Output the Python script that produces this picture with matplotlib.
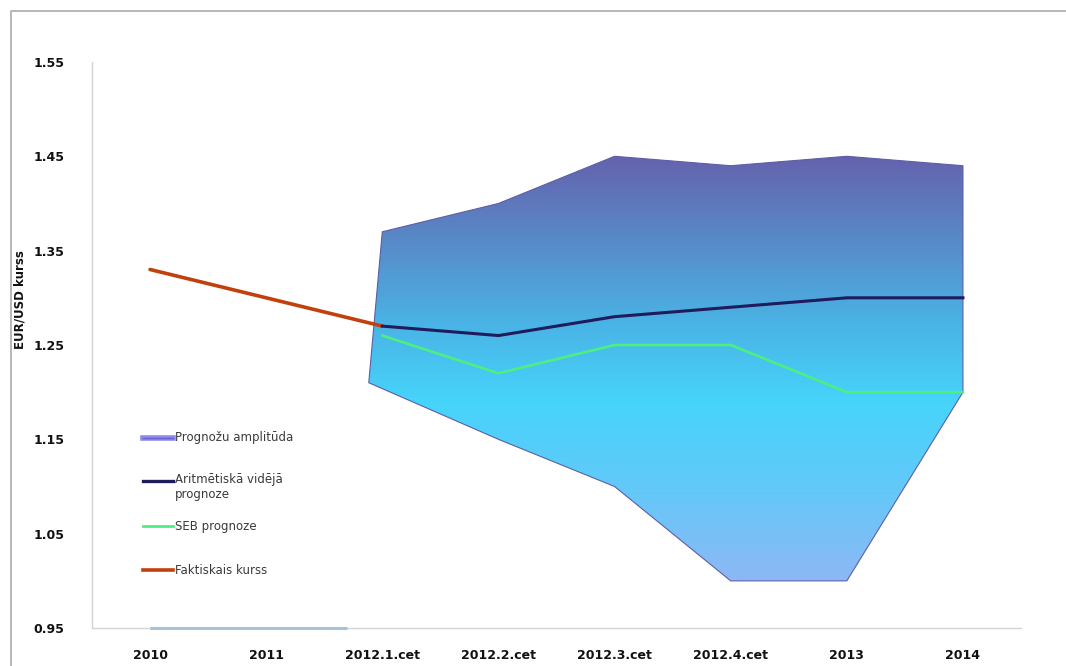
import numpy as np
import matplotlib.pyplot as plt
from matplotlib.patches import Polygon
from matplotlib.colors import LinearSegmentedColormap
from matplotlib.lines import Line2D

categories = ['2010', '2011', '2012.1.cet', '2012.2.cet', '2012.3.cet',
              '2012.4.cet', '2013', '2014']
actual_rate = [1.33, 1.30, 1.27]                       # 2010 .. 2012.1
mean_forecast = [1.27, 1.26, 1.28, 1.29, 1.30, 1.30]   # 2012.1 .. 2014
seb_forecast = [1.26, 1.22, 1.25, 1.25, 1.20, 1.20]
range_low = [1.21, 1.15, 1.10, 1.00, 1.00, 1.20]
range_high = [1.37, 1.40, 1.45, 1.44, 1.45, 1.44]
yticks = [0.95, 1.05, 1.15, 1.25, 1.35, 1.45, 1.55]

YMIN, YMAX = 0.95, 1.55

x = np.arange(len(categories))
xf = x[2:]

fig = plt.figure(figsize=(10.66, 6.66), dpi=100)
ax = fig.add_axes([0.0863, 0.057, 0.8715, 0.850])

# forecast range: upper edge rises from zero at 2011, so the left side is slanted
x_left = x[1] + range_low[0] / range_high[0]
verts = [(x_left, range_low[0])] + list(zip(xf, range_high)) + \
        list(zip(xf[:0:-1], range_low[:0:-1]))
poly = Polygon(verts, closed=True, facecolor='none', edgecolor='#5d5ea6',
               lw=0.8, zorder=3)
ax.add_patch(poly)

stops = [(1.00, '#8db8f5'), (1.10, '#62c9f9'), (1.19, '#46d4fb'),
         (1.27, '#4ab4e6'), (1.35, '#568fcb'), (1.45, '#6562ad')]
lo, hi = stops[0][0], stops[-1][0]
cmap = LinearSegmentedColormap.from_list(
    'amp', [((v - lo) / (hi - lo), c) for v, c in stops])
grad = np.linspace(0, 1, 256).reshape(-1, 1)
img = ax.imshow(grad, cmap=cmap, origin='lower', aspect='auto',
                extent=[x_left, xf[-1], lo, hi], zorder=2, interpolation='bilinear')
img.set_clip_path(poly)

# zero part of the range series sits on the axis floor
ax.plot([x[0], x[1] + YMIN / range_high[0]], [YMIN, YMIN], color='#a9c0da',
        lw=2.2, zorder=4, clip_on=False, solid_capstyle='butt')

ax.plot(x[:3], actual_rate, color='#c2400c', lw=2.6, zorder=4,
        solid_capstyle='round')
ax.plot(xf, mean_forecast, color='#1f1b5c', lw=2.2, zorder=5)
ax.plot(xf, seb_forecast, color='#4def80', lw=1.9, zorder=5)

ax.set_xlim(-0.5, 7.5)
ax.set_ylim(YMIN, YMAX)
ax.set_yticks(yticks)
ax.set_yticklabels([f'{v:.2f}' for v in yticks])
ax.set_xticks(x)
ax.set_xticklabels(categories)
ax.tick_params(length=0, labelsize=9)
ax.tick_params(axis='y', pad=20)
ax.tick_params(axis='x', pad=15)
for lab in ax.get_xticklabels() + ax.get_yticklabels():
    lab.set_fontweight('bold')
    lab.set_color('#111111')

for side in ['top', 'right']:
    ax.spines[side].set_visible(False)
for side in ['left', 'bottom']:
    ax.spines[side].set_color('#d4d4d4')
    ax.spines[side].set_linewidth(1.0)

ax.set_ylabel('EUR/USD kurss', fontsize=8.5, fontweight='bold', color='#111111')
ax.yaxis.set_label_coords(-0.07, 0.58)

# legend entries drawn by hand
leg = [
    (0.336, 'Prognožu amplitūda', '#8a8ce6', 4.0),
    (0.260, 'Aritmētiskā vidējā\nprognoze', '#1f1b5c', 2.4),
    (0.180, 'SEB prognoze', '#4def80', 2.0),
    (0.102, 'Faktiskais kurss', '#c2400c', 2.6),
]
for yy, text, col, lw in leg:
    ax.add_line(Line2D([0.055, 0.087], [yy, yy], color=col, lw=lw,
                       transform=ax.transAxes, zorder=6))
    if '\n' in text:
        ax.text(0.089, yy + 0.013, text, transform=ax.transAxes, fontsize=8.5,
                color='#3a3a3a', va='top', ha='left', linespacing=1.2)
    else:
        ax.text(0.089, yy, text, transform=ax.transAxes, fontsize=8.5,
                color='#3a3a3a', va='center', ha='left')
ax.add_line(Line2D([0.055, 0.087], [0.336, 0.336], color='#6d5fd2', lw=1.0,
                   transform=ax.transAxes, zorder=7))

# outer frame (left and top edges)
fx0, fy1 = 11 / 1066, 1 - 10.5 / 666
fig.add_artist(Line2D([fx0, fx0, 1], [0, fy1, fy1], color='#ababab', lw=1.2,
                      transform=fig.transFigure))

fig.savefig('out.png', dpi=100)
